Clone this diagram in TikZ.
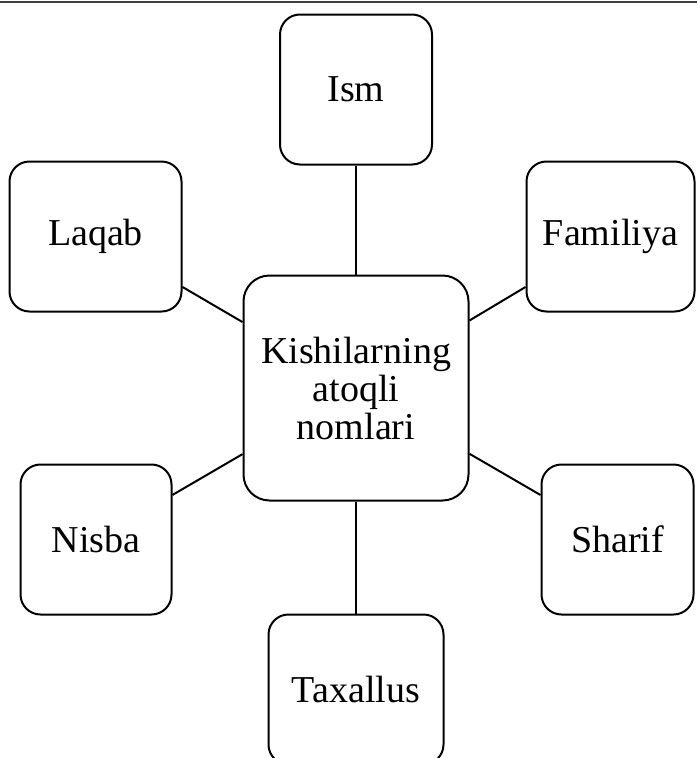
\documentclass[tikz,border=0pt]{standalone}
\usepackage{fontspec}
\setmainfont{Liberation Serif}
\usetikzlibrary{positioning}

\begin{document}
\begin{tikzpicture}[
  x=1pt, y=-1pt,
  font=\fontsize{38}{38}\selectfont,
  box/.style={draw=black, line width=2pt, rounded corners=20pt, fill=white, minimum height=150pt, inner sep=0pt, align=center},
  hub/.style={box, minimum width=225pt, minimum height=225pt, rounded corners=26pt},
  link/.style={line width=2pt, draw=black}
]
  \useasboundingbox (0,0) rectangle (697,758);
  \draw[line width=2.2pt, black!75] (0,2) -- (697,2);

  \node[hub] (center) at (356,388) {Kishilarning\\atoqli\\nomlari};
  \node[box, minimum width=152pt, above=109pt of center] (ism) {Ism};
  \node[box, minimum width=175pt, below=112pt of center] (taxallus) {Taxallus};
  \node[box, minimum width=172pt, above left=-38pt and 60pt of center] (laqab) {Laqab};
  \node[box, minimum width=168pt, above right=-38pt and 56pt of center] (familiya) {Familiya};
  \node[box, minimum width=151pt, below left=-38pt and 70pt of center] (nisba) {Nisba};
  \node[box, minimum width=152pt, below right=-38pt and 71pt of center] (sharif) {Sharif};

  \draw[link] (center) -- (ism);
  \draw[link] (center) -- (taxallus);
  \draw[link] (center) -- (laqab);
  \draw[link] (center) -- (familiya);
  \draw[link] (center) -- (nisba);
  \draw[link] (center) -- (sharif);
\end{tikzpicture}
\end{document}
